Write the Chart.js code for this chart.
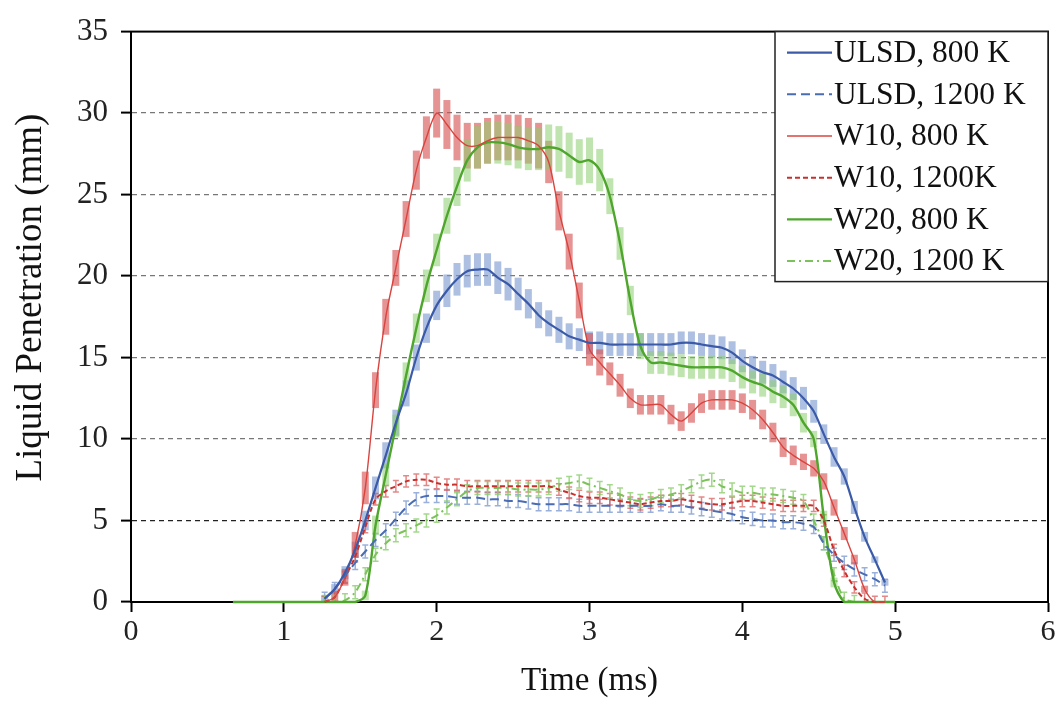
<!DOCTYPE html>
<html>
<head>
<meta charset="utf-8">
<script src="https://cdn.jsdelivr.net/npm/chart.js@4"></script>
<style>
  body { margin: 0; background: #fff; }
  #wrap { width: 1061px; height: 705px; }
</style>
</head>
<body>
<div id="wrap"><canvas id="chart"></canvas></div>
<script>
// time axis (ms), one frame every 1/15 ms
const times = [0.667, 0.733, 0.8, 0.867, 0.933, 1.0, 1.067, 1.133, 1.2, 1.267,
  1.333, 1.4, 1.467, 1.533, 1.6, 1.667, 1.733, 1.8, 1.867, 1.933,
  2.0, 2.067, 2.133, 2.2, 2.267, 2.333, 2.4, 2.467, 2.533, 2.6,
  2.667, 2.733, 2.8, 2.867, 2.933, 3.0, 3.067, 3.133, 3.2, 3.267,
  3.333, 3.4, 3.467, 3.533, 3.6, 3.667, 3.733, 3.8, 3.867, 3.933,
  4.0, 4.067, 4.133, 4.2, 4.267, 4.333, 4.4, 4.467, 4.533, 4.6,
  4.667, 4.733, 4.8, 4.867, 4.933, 5.0];

const N9 = [null, null, null, null, null, null, null, null, null];
const Z9 = [0, 0, 0, 0, 0, 0, 0, 0, 0];

// liquid penetration (mm)
const ulsd800 = [...N9,
  0.2, 0.8, 1.8, 3.2, 5, 7, 9, 11, 12.8, 15,
  16.8, 18.2, 19.1, 19.8, 20.3, 20.4, 20.4, 19.9, 19.5, 18.9,
  18.3, 17.6, 17.1, 16.7, 16.3, 16.1, 15.9, 15.9, 15.8, 15.8,
  15.8, 15.8, 15.8, 15.8, 15.8, 15.9, 15.9, 15.8, 15.7, 15.6,
  15.3, 14.8, 14.4, 14.1, 13.9, 13.5, 13.1, 12.5, 11.7, 10.3,
  8.9, 7.7, 5.8, 4, 2.6, 1.2, null];
const ulsd800Err = [...Z9,
  0.2, 0.3, 0.4, 0.5, 0.6, 0.7, 0.8, 0.8, 0.8, 0.8,
  0.9, 0.9, 1.0, 1.0, 1.0, 1.0, 1.0, 1.0, 1.0, 1.0,
  0.9, 0.8, 0.8, 0.8, 0.8, 0.7, 0.7, 0.7, 0.7, 0.7,
  0.7, 0.7, 0.7, 0.7, 0.7, 0.7, 0.7, 0.7, 0.7, 0.7,
  0.7, 0.7, 0.7, 0.7, 0.7, 0.7, 0.7, 0.7, 0.7, 0.6,
  0.6, 0.5, 0.4, 0.3, 0.2, 0.2, 0];

const ulsd1200 = [...N9,
  0.2, 0.8, 1.6, 2.4, 3.1, 3.8, 4.4, 5.1, 5.8, 6.3,
  6.5, 6.5, 6.5, 6.4, 6.4, 6.4, 6.3, 6.3, 6.2, 6.2,
  6.1, 6.0, 6.0, 6.0, 6.0, 5.9, 5.9, 5.9, 5.9, 5.9,
  5.9, 5.9, 5.9, 6.0, 5.9, 5.9, 5.8, 5.7, 5.6, 5.5,
  5.4, 5.2, 5.1, 5.0, 5.0, 4.9, 4.9, 4.8, 4.6, 3.6,
  2.9, 2.4, 2.0, 1.7, 1.4, 1.0, null];

const w10_800 = [...N9,
  0, 0.3, 1.5, 3.5, 7, 13, 17.5, 20.5, 23.5, 26.5,
  28.5, 30, 29.3, 28.5, 28, 28, 28.3, 28.5, 28.5, 28.5,
  28.3, 28, 27, 24, 21.5, 18.5, 15.5, 14.7, 14, 13.3,
  12.5, 12.1, 12.1, 12.1, 11.5, 11.1, 11.6, 12.2, 12.4, 12.4,
  12.4, 12.2, 11.8, 11.2, 10.4, 9.5, 9, 8.6, 8.2, 7.4,
  5.8, 4.2, 2.6, 0.8, 0, 0, null];
const w10_800Err = [...Z9,
  0, 0.3, 0.5, 0.8, 1.0, 1.1, 1.1, 1.1, 1.1, 1.2,
  1.3, 1.5, 1.5, 1.4, 1.4, 1.4, 1.4, 1.4, 1.4, 1.4,
  1.4, 1.4, 1.3, 1.2, 1.1, 1.1, 1.0, 0.8, 0.7, 0.7,
  0.6, 0.6, 0.6, 0.6, 0.6, 0.6, 0.6, 0.6, 0.6, 0.6,
  0.6, 0.6, 0.6, 0.6, 0.6, 0.6, 0.6, 0.5, 0.5, 0.5,
  0.5, 0.4, 0.3, 0.2, 0, 0, 0];

const w10_1200 = [...N9,
  0, 0.3, 1.5, 2.8, 4.6, 6.3, 6.8, 7.1, 7.4, 7.5,
  7.5, 7.3, 7.2, 7.2, 7.1, 7.1, 7.1, 7.1, 7.1, 7.1,
  7.1, 7.1, 7.1, 6.9, 6.7, 6.5, 6.4, 6.4, 6.3, 6.2,
  6.1, 6.0, 6.1, 6.2, 6.2, 6.3, 6.2, 6.1, 6.0, 6.0,
  6.1, 6.2, 6.2, 6.1, 6.0, 5.9, 5.9, 5.9, 5.9, 5.0,
  3.2, 1.9, 0.9, 0.2, 0, 0, null];

const w20_800 = [0, 0, 0, 0, ...Z9,
  0.4, 4.7, 7.8, 10.8, 13.9, 16.8,
  19.4, 21.6, 23.7, 25.5, 27.1, 27.9, 28.2, 28.2, 28.1, 27.9,
  27.8, 27.8, 27.9, 27.8, 27.4, 27, 27.1, 26.5, 24.9, 22,
  18.5, 15.7, 14.7, 14.7, 14.6, 14.5, 14.4, 14.4, 14.4, 14.4,
  14.2, 13.8, 13.5, 13.3, 12.9, 12.6, 12.1, 11, 10, 5.2,
  1.2, 0, 0, 0, 0, 0, 0];
const w20_800Err = [0, 0, 0, 0, ...Z9,
  0.3, 0.6, 0.7, 0.7, 0.8, 0.9,
  1.0, 1.0, 1.1, 1.2, 1.3, 1.3, 1.3, 1.3, 1.3, 1.3,
  1.3, 1.3, 1.4, 1.4, 1.4, 1.4, 1.4, 1.3, 1.1, 1.0,
  0.9, 0.8, 0.7, 0.7, 0.7, 0.7, 0.7, 0.7, 0.7, 0.7,
  0.7, 0.7, 0.7, 0.7, 0.7, 0.7, 0.7, 0.6, 0.5, 0.4,
  0.3, 0, 0, 0, 0, 0, 0];

const w20_1200 = [...N9,
  0, 0, 0.1, 0.6, 1.7, 2.9, 3.6, 4.1, 4.4, 4.7,
  5.0, 5.3, 5.8, 6.3, 6.8, 7.0, 7.0, 7.0, 7.0, 6.9,
  6.9, 6.9, 7.0, 7.2, 7.3, 7.4, 7.2, 7.0, 6.8, 6.6,
  6.3, 6.2, 6.3, 6.5, 6.6, 6.8, 7.1, 7.4, 7.5, 7.1,
  6.9, 6.7, 6.7, 6.6, 6.6, 6.5, 6.4, 6.2, 5.0, 3.6,
  1.7, 0.2, 0, null, null, null, null];

const seriesNames = ['ULSD, 800 K', 'ULSD, 1200 K', 'W10, 800 K', 'W10, 1200K', 'W20, 800 K', 'W20, 1200 K'];
const yTicks = [0, 5, 10, 15, 20, 25, 30, 35];
const xTicks = [0, 1, 2, 3, 4, 5, 6];
const yTitle = 'Liquid Penetration (mm)';

const FONT = "'Liberation Serif', 'Times New Roman', serif";

function toPoints(arr) {
  return times.map((t, i) => ({ x: t, y: arr[i] }));
}

// black box round the plot, drawn under the curves
const frame = {
  id: 'frame',
  beforeDatasetsDraw(chart) {
    const { ctx, chartArea } = chart;
    ctx.save();
    ctx.strokeStyle = '#000';
    ctx.lineWidth = 2;
    ctx.strokeRect(chartArea.left, chartArea.top, chartArea.right - chartArea.left, chartArea.bottom - chartArea.top);
    ctx.restore();
  }
};

// error bars: filled boxes for 800 K, small capped bars for 1200 K
const errorBars = {
  id: 'errorBars',
  beforeDatasetsDraw(chart) {
    const { ctx, chartArea, scales: { y } } = chart;
    ctx.save();
    ctx.beginPath();
    ctx.rect(chartArea.left, chartArea.top, chartArea.right - chartArea.left, chartArea.bottom - chartArea.top);
    ctx.clip();
    chart.data.datasets.forEach((ds, i) => {
      const meta = chart.getDatasetMeta(i);
      meta.data.forEach((pt, j) => {
        const v = ds.data[j].y;
        if (v == null) return;
        const e = ds.errors ? ds.errors[j] : ds.errorSize;
        if (!e) return;
        const top = y.getPixelForValue(v + e);
        const bot = y.getPixelForValue(v - e);
        if (ds.errors) {
          ctx.fillStyle = ds.errorColor;
          ctx.fillRect(pt.x - 3.5, top, 7, bot - top);
        } else {
          ctx.strokeStyle = ds.errorColor;
          ctx.lineWidth = 1.5;
          ctx.beginPath();
          ctx.moveTo(pt.x, top); ctx.lineTo(pt.x, bot);
          ctx.moveTo(pt.x - 3, top); ctx.lineTo(pt.x + 3, top);
          ctx.moveTo(pt.x - 3, bot); ctx.lineTo(pt.x + 3, bot);
          ctx.stroke();
        }
      });
    });
    ctx.restore();
  }
};

// y title and legend box in upper right corner
const legendBox = {
  id: 'legendBox',
  afterDraw(chart) {
    const { ctx, chartArea } = chart;
    ctx.save();

    ctx.fillStyle = '#111';
    ctx.font = '37px ' + FONT;
    ctx.textAlign = 'center';
    ctx.textBaseline = 'middle';
    ctx.translate(31, chartArea.top + 266);
    ctx.rotate(-Math.PI / 2);
    ctx.fillText(yTitle, 0, 0);
    ctx.setTransform(1, 0, 0, 1, 0, 0);

    const w = 273, h = 250;
    const bx = chartArea.right - w, by = chartArea.top;
    ctx.fillStyle = '#fff';
    ctx.fillRect(bx, by, w, h);
    ctx.lineWidth = 1.5;
    ctx.strokeStyle = '#222';
    ctx.strokeRect(bx, by, w, h);

    ctx.font = '31.5px ' + FONT;
    ctx.textAlign = 'left';
    ctx.textBaseline = 'middle';
    chart.data.datasets.forEach((ds, i) => {
      const ry = by + 21 + i * 41.7;
      ctx.strokeStyle = ds.borderColor;
      ctx.lineWidth = ds.borderWidth;
      ctx.setLineDash(ds.borderDash || []);
      ctx.beginPath();
      ctx.moveTo(bx + 12, ry);
      ctx.lineTo(bx + 57, ry);
      ctx.stroke();
      ctx.setLineDash([]);
      ctx.fillStyle = '#111';
      ctx.fillText(ds.label, bx + 59, ry + 1);
    });
    ctx.restore();
  }
};

const datasets = [
  { label: seriesNames[0], data: toPoints(ulsd800), errors: ulsd800Err,
    borderColor: '#3b5ba9', borderWidth: 2.2, errorColor: 'rgba(120,150,205,0.6)' },
  { label: seriesNames[1], data: toPoints(ulsd1200), errorSize: 0.4,
    borderColor: '#4a6cb3', borderWidth: 2, borderDash: [9, 5], errorColor: 'rgba(120,150,205,0.75)' },
  { label: seriesNames[2], data: toPoints(w10_800), errors: w10_800Err,
    borderColor: '#d9443f', borderWidth: 1.4, errorColor: 'rgba(215,80,80,0.62)' },
  { label: seriesNames[3], data: toPoints(w10_1200), errorSize: 0.35,
    borderColor: '#c8302c', borderWidth: 2, borderDash: [5, 3], errorColor: 'rgba(215,85,85,0.7)' },
  { label: seriesNames[4], data: toPoints(w20_800), errors: w20_800Err,
    borderColor: '#4ea62c', borderWidth: 2.4, errorColor: 'rgba(140,205,110,0.55)' },
  { label: seriesNames[5], data: toPoints(w20_1200), errorSize: 0.4,
    borderColor: '#7cc25a', borderWidth: 2, borderDash: [8, 4, 2, 4], errorColor: 'rgba(140,205,110,0.8)' }
];
datasets.forEach(ds => {
  ds.pointRadius = 0;
  ds.tension = 0.3;
  ds.fill = false;
  ds.clip = 4;
});

new Chart(document.getElementById('chart'), {
  type: 'line',
  data: { datasets: datasets },
  options: {
    responsive: true,
    maintainAspectRatio: false,
    animation: false,
    layout: { padding: { top: 27, right: 13, left: 0, bottom: 0 } },
    plugins: { legend: { display: false }, tooltip: { enabled: false } },
    scales: {
      x: {
        type: 'linear', min: 0, max: 6,
        afterBuildTicks: s => { s.ticks = xTicks.map(v => ({ value: v })); },
        afterFit: s => { s.height = 103; },
        grid: { drawOnChartArea: false, tickLength: 10, tickColor: '#000', tickWidth: 2 },
        border: { color: '#000', width: 2 },
        ticks: { color: '#222', font: { family: FONT, size: 30 }, padding: 2, autoSkip: false, maxRotation: 0 },
        title: { display: true, text: 'Time (ms)', color: '#111', font: { family: FONT, size: 33 }, padding: { top: 0, bottom: 4 } }
      },
      y: {
        min: 0, max: 35,
        afterBuildTicks: s => { s.ticks = yTicks.map(v => ({ value: v })); },
        afterFit: s => { s.width = 131; },
        grid: {
          color: c => (c.tick.value === 0 || c.tick.value === 35) ? 'rgba(0,0,0,0)' : (c.tick.value === 5 ? '#222' : '#777'),
          lineWidth: 1.2, tickLength: 10, tickColor: '#000', tickWidth: 2
        },
        border: { color: '#000', width: 2, dash: [5, 4] },
        ticks: { color: '#222', font: { family: FONT, size: 31 }, padding: 13 }
      }
    }
  },
  plugins: [frame, errorBars, legendBox]
});
</script>
</body>
</html>
